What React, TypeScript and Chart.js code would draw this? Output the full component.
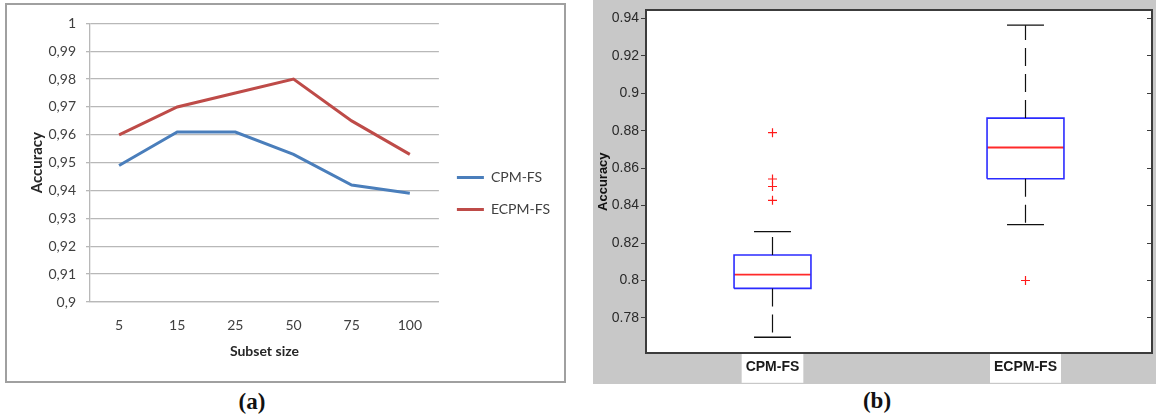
import React, { useEffect, useRef } from 'react';
import { Chart, registerables } from 'chart.js';

Chart.register(...registerables);

// ---------- Panel (a): line chart ----------
const A_SUBSETS = ['5', '15', '25', '50', '75', '100'];
const A_CPM = [0.949, 0.961, 0.961, 0.953, 0.942, 0.939];
const A_ECPM = [0.96, 0.97, 0.975, 0.98, 0.965, 0.953];
const A_Y_TICKS = [0.9, 0.91, 0.92, 0.93, 0.94, 0.95, 0.96, 0.97, 0.98, 0.99, 1];
const A_Y_TICK_LABELS = ['0,9', '0,91', '0,92', '0,93', '0,94', '0,95', '0,96', '0,97', '0,98', '0,99', '1'];

// ---------- Panel (b): box plot ----------
const B_GROUPS = ['CPM-FS', 'ECPM-FS'];
const B_LOW = [0.7697, 0.8298];
const B_Q1 = [0.7958, 0.8543];
const B_MEDIAN = [0.8031, 0.871];
const B_Q3 = [0.8136, 0.8867];
const B_HIGH = [0.8261, 0.9363];
const B_OUTLIERS = [[0.8428, 0.8502, 0.8542, 0.8789], [0.8]];
const B_Y_TICKS = [0.78, 0.8, 0.82, 0.84, 0.86, 0.88, 0.9, 0.92, 0.94];
const B_Y_TICK_LABELS = ['0.78', '0.8', '0.82', '0.84', '0.86', '0.88', '0.9', '0.92', '0.94'];
const B_Y_MIN = 0.7613;
const B_Y_MAX = 0.9442;

const BLUE = '#4a7ebb';
const RED = '#be4b48';
const GRID = '#b8b8b8';
const A_FONT = 'Lato, "Open Sans", sans-serif';
const B_FONT = '"Liberation Sans Narrow", "Arial Narrow", "Liberation Sans", Arial, sans-serif';
const AXIS = '#3c3c3c';

const BOX_HALF = 0.152;
const CAP_HALF = 0.073;

function PanelA() {
  const ref = useRef<HTMLCanvasElement>(null);
  useEffect(() => {
    const chart = new Chart(ref.current as HTMLCanvasElement, {
      type: 'line',
      data: {
        labels: A_SUBSETS,
        datasets: [
          { label: 'CPM-FS', data: A_CPM, borderColor: BLUE, backgroundColor: BLUE, borderWidth: 3, pointRadius: 0, tension: 0 },
          { label: 'ECPM-FS', data: A_ECPM, borderColor: RED, backgroundColor: RED, borderWidth: 3, pointRadius: 0, tension: 0 },
        ],
      },
      options: {
        animation: false,
        responsive: false,
        devicePixelRatio: 1,
        layout: { padding: { top: 17, bottom: 16, left: 0, right: 4 }, autoPadding: false },
        plugins: {
          tooltip: { enabled: false },
          legend: {
            position: 'right',
            labels: {
              boxWidth: 27,
              boxHeight: 3,
              padding: 18,
              color: '#404040',
              font: { family: A_FONT, size: 14 },
              generateLabels: (c: any) =>
                (Chart.defaults as any).plugins.legend.labels.generateLabels(c).map((l: any) => ({ ...l, lineWidth: 0 })),
            },
          },
        },
        scales: {
          x: {
            type: 'category',
            offset: true,
            grid: { display: false, drawTicks: false },
            border: { display: true, color: GRID, width: 1.3 },
            ticks: { color: '#404040', font: { family: A_FONT, size: 14 }, padding: 15, maxRotation: 0 },
            title: { display: true, text: 'Subset size', color: '#262626', font: { family: A_FONT, size: 14, weight: 'bold' }, padding: { top: 0, bottom: 5 } },
            afterFit: (s: any) => { s.height = 63; },
          },
          y: {
            min: 0.9,
            max: 1,
            afterBuildTicks: (s: any) => { s.ticks = A_Y_TICKS.map((v) => ({ value: v })); },
            ticks: { callback: (_v: any, i: number) => A_Y_TICK_LABELS[i], color: '#404040', font: { family: A_FONT, size: 14 }, padding: 10 },
            grid: { color: GRID, lineWidth: 1.3, tickLength: 4 },
            border: { display: true, color: GRID, width: 1.3 },
            title: { display: true, text: 'Accuracy', color: '#262626', font: { family: A_FONT, size: 15, weight: 'bold' }, padding: { top: 21, bottom: 0 } },
            afterFit: (s: any) => { s.width = 83; },
          },
        },
      } as any,
    });
    return () => chart.destroy();
  }, []);
  return <canvas ref={ref} width={557} height={376} style={{ position: 'absolute', left: 7, top: 5, width: 557, height: 376 }} />;
}

const whiteArea = {
  id: 'whiteArea',
  beforeDraw(chart: any) {
    const { ctx, chartArea: a } = chart;
    ctx.save();
    ctx.fillStyle = '#ffffff';
    ctx.fillRect(a.left, a.top, a.right - a.left, a.bottom - a.top);
    ctx.restore();
  },
};

function PanelB() {
  const ref = useRef<HTMLCanvasElement>(null);
  useEffect(() => {
    const datasets: any[] = [];
    const line = (pts: { x: number; y: number }[], color: string, width: number, dash: number[] = []) => ({
      data: pts,
      showLine: true,
      borderColor: color,
      backgroundColor: color,
      borderWidth: width,
      borderDash: dash,
      pointRadius: 0,
      fill: false,
      tension: 0,
    });
    B_GROUPS.forEach((_g, i) => {
      const x = i + 1;
      datasets.push(line([{ x, y: B_Q3[i] }, { x, y: B_HIGH[i] }], '#111', 1.2, [18, 8]));
      datasets.push(line([{ x, y: B_Q1[i] }, { x, y: B_LOW[i] }], '#111', 1.2, [18, 8]));
      datasets.push(line([{ x: x - CAP_HALF, y: B_HIGH[i] }, { x: x + CAP_HALF, y: B_HIGH[i] }], '#111', 1.3));
      datasets.push(line([{ x: x - CAP_HALF, y: B_LOW[i] }, { x: x + CAP_HALF, y: B_LOW[i] }], '#111', 1.3));
      datasets.push(line([
        { x: x - BOX_HALF, y: B_Q1[i] },
        { x: x + BOX_HALF, y: B_Q1[i] },
        { x: x + BOX_HALF, y: B_Q3[i] },
        { x: x - BOX_HALF, y: B_Q3[i] },
        { x: x - BOX_HALF, y: B_Q1[i] },
      ], '#2b2bff', 1.6));
      datasets.push(line([{ x: x - BOX_HALF, y: B_MEDIAN[i] }, { x: x + BOX_HALF, y: B_MEDIAN[i] }], '#ff2a2a', 1.8));
      datasets.push({
        data: B_OUTLIERS[i].map((y) => ({ x, y })),
        showLine: false,
        pointStyle: 'cross',
        pointRadius: 4.5,
        borderColor: '#ff1a1a',
        backgroundColor: '#ff1a1a',
        borderWidth: 1.2,
      });
    });

    const chart = new Chart(ref.current as HTMLCanvasElement, {
      type: 'scatter',
      data: { datasets },
      plugins: [whiteArea],
      options: {
        animation: false,
        responsive: false,
        devicePixelRatio: 1,
        layout: { padding: { top: 3, bottom: 0, left: 0, right: 0 }, autoPadding: false },
        plugins: { legend: { display: false }, tooltip: { enabled: false } },
        scales: {
          x: {
            type: 'linear',
            min: 0.5,
            max: 2.5,
            afterBuildTicks: (s: any) => { s.ticks = B_GROUPS.map((_g, i) => ({ value: i + 1 })); },
            ticks: {
              callback: (_v: any, i: number) => B_GROUPS[i],
              color: '#1a1a1a',
              font: { family: B_FONT, size: 14, weight: 'bold' },
              padding: 6,
              showLabelBackdrop: true,
              backdropColor: '#ffffff',
              backdropPadding: { top: 5, bottom: 7, left: 4, right: 4 },
              maxRotation: 0,
            },
            grid: { display: false, drawTicks: false },
            border: { display: true, color: AXIS, width: 2 },
            afterFit: (s: any) => { s.height = 31; },
          },
          xTop: {
            type: 'linear',
            axis: 'x',
            position: 'top',
            min: 0.5,
            max: 2.5,
            ticks: { display: false },
            grid: { display: false, drawTicks: false },
            border: { display: true, color: AXIS, width: 2 },
            afterFit: (s: any) => { s.height = 0; },
          },
          y: {
            min: B_Y_MIN,
            max: B_Y_MAX,
            afterBuildTicks: (s: any) => { s.ticks = B_Y_TICKS.map((v) => ({ value: v })); },
            ticks: { callback: (_v: any, i: number) => B_Y_TICK_LABELS[i], color: '#2a2a2a', font: { family: B_FONT, size: 14 }, padding: 2 },
            grid: { drawOnChartArea: false, tickLength: 5, color: AXIS, lineWidth: 1 },
            border: { display: true, color: AXIS, width: 2 },
            title: { display: true, text: 'Accuracy', color: '#111', font: { family: B_FONT, size: 13, weight: 'bold' }, padding: { top: 3, bottom: 0 } },
            afterFit: (s: any) => { s.width = 53; },
          },
          yRight: {
            type: 'linear',
            axis: 'y',
            position: 'right',
            min: B_Y_MIN,
            max: B_Y_MAX,
            afterBuildTicks: (s: any) => { s.ticks = B_Y_TICKS.map((v) => ({ value: v })); },
            ticks: { display: false },
            grid: { drawOnChartArea: false, tickLength: -5, color: AXIS, lineWidth: 1 },
            border: { display: true, color: AXIS, width: 2 },
            afterFit: (s: any) => { s.width = 4; },
          },
        },
      } as any,
    });
    return () => chart.destroy();
  }, []);
  return <canvas ref={ref} width={563} height={384} style={{ position: 'absolute', left: 593, top: 0, width: 563, height: 384, background: '#c8c8c8' }} />;
}

export default function App() {
  const caption: React.CSSProperties = {
    position: 'absolute',
    width: 80,
    height: 26,
    lineHeight: '26px',
    textAlign: 'center',
    fontFamily: '"Liberation Serif", "Times New Roman", serif',
    fontWeight: 'bold',
    fontSize: 23,
    color: '#111',
  };
  return (
    <div style={{ position: 'absolute', left: 0, top: 0, width: 1156, height: 416, background: '#fff', overflow: 'hidden' }}>
      <div style={{ position: 'absolute', left: 5, top: 3, width: 561, height: 380, border: '2px solid #a0a0a0', boxSizing: 'border-box' }} />
      <PanelA />
      <PanelB />
      <div style={{ ...caption, left: 212, top: 389 }}>(a)</div>
      <div style={{ ...caption, left: 837, top: 388 }}>(b)</div>
    </div>
  );
}
